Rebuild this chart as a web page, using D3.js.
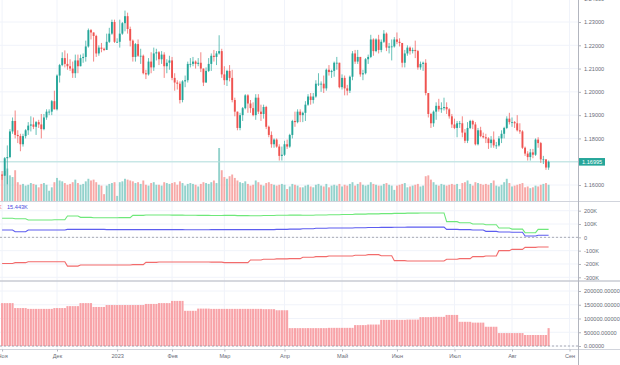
<!DOCTYPE html>
<html><head><meta charset="utf-8">
<script src="https://cdn.jsdelivr.net/npm/d3@7"></script>
<style>
html,body{margin:0;padding:0;background:#fff;}
svg{display:block;font-family:"Liberation Sans",Arial,sans-serif;}
</style></head>
<body><svg id="c" width="620" height="365"></svg>
<script>
// ---------- DATA ----------
const firstOpen = 1.1645;
const closes = [
1.1640,1.1715,1.1720,1.1830,1.1875,1.1815,1.1810,1.1775,1.1810,1.1835,1.1855,1.1860,1.1850,1.1870,1.1860,1.1840,1.1890,1.1915,1.1915,1.1960,1.1925,
1.2070,1.2115,1.2145,1.2120,1.2110,1.2100,1.2080,1.2135,1.2110,1.2145,1.2150,1.2195,1.2265,1.2255,1.2240,1.2165,1.2190,1.2185,1.2180,1.2215,1.2250,1.2300,1.2215,
1.2215,1.2250,1.2295,1.2325,1.2270,1.2220,1.2150,1.2205,1.2155,1.2155,1.2080,1.2075,1.2130,1.2105,1.2165,1.2170,1.2140,1.2160,1.2110,1.2125,1.2135,
1.2060,1.2040,1.2035,1.1965,1.2045,1.2050,1.2120,1.2120,1.2130,1.2120,1.2125,1.2100,1.2040,1.2090,1.2120,1.2155,1.2150,1.2165,1.2175,1.2075,
1.2050,1.2090,1.2060,1.1965,1.1915,1.1845,1.1900,1.1930,1.1985,1.1950,1.1930,1.1900,1.1975,1.1915,1.1905,1.1935,1.1850,1.1815,1.1775,1.1795,1.1765,1.1725,1.1730,
1.1775,1.1765,1.1815,1.1875,1.1870,1.1915,1.1900,1.1910,1.1945,1.1980,1.1965,1.1980,1.2035,1.2035,1.2035,1.2015,1.2095,1.2085,1.2090,1.2125,1.2125,1.2020,
1.2060,1.2015,1.2005,1.2065,1.2165,1.2130,1.2150,1.2075,1.2080,1.2140,1.2150,1.2225,1.2175,1.2225,1.2180,1.2215,1.2250,1.2190,1.2195,1.2195,1.2225,
1.2215,1.2210,1.2125,1.2165,1.2190,1.2175,1.2180,1.2175,1.2105,1.2120,1.2125,1.1995,1.1905,1.1865,1.1915,1.1940,1.1925,1.1930,1.1935,1.1925,1.1895,1.1860,
1.1845,1.1865,1.1865,1.1825,1.1790,1.1845,1.1875,1.1860,1.1775,1.1835,1.1810,1.1805,1.1800,1.1780,1.1795,1.1770,1.1770,1.1800,1.1820,1.1845,1.1885,1.1870,
1.1870,1.1865,1.1835,1.1830,1.1760,1.1735,1.1720,1.1740,1.1730,1.1795,1.1780,1.1710,1.1710,1.1675,1.16995];
const highs = [
1.1660,1.1720,1.1770,1.1840,1.1890,1.1920,1.1835,1.1820,1.1820,1.1840,1.1870,1.1895,1.1890,1.1875,1.1880,1.1905,1.1905,1.1925,1.1925,1.1965,1.2005,
1.2075,1.2120,1.2170,1.2178,1.2165,1.2140,1.2130,1.2160,1.2160,1.2160,1.2165,1.2220,1.2272,1.2270,1.2255,1.2245,1.2200,1.2210,1.2190,1.2250,1.2275,1.2310,1.2310,
1.2230,1.2310,1.2300,1.2349,1.2340,1.2280,1.2225,1.2210,1.2225,1.2185,1.2160,1.2095,1.2145,1.2170,1.2190,1.2185,1.2175,1.2175,1.2170,1.2140,1.2155,
1.2150,1.2080,1.2050,1.2045,1.2050,1.2070,1.2130,1.2145,1.2150,1.2135,1.2145,1.2170,1.2100,1.2105,1.2145,1.2165,1.2180,1.2175,1.2243,1.2185,
1.2110,1.2095,1.2115,1.2095,1.1975,1.1915,1.1910,1.1935,1.1990,1.1990,1.1965,1.1955,1.1990,1.1990,1.1945,1.1945,1.1940,1.1855,1.1830,1.1800,1.1800,1.1775,1.1765,
1.1790,1.1795,1.1820,1.1880,1.1915,1.1925,1.1925,1.1915,1.1960,1.1990,1.1995,1.1995,1.2050,1.2080,1.2045,1.2070,1.2100,1.2115,1.2095,1.2130,1.2150,1.2125,
1.2075,1.2070,1.2030,1.2070,1.2175,1.2180,1.2180,1.2150,1.2095,1.2145,1.2160,1.2245,1.2230,1.2230,1.2245,1.2225,1.2265,1.2255,1.2210,1.2225,1.2235,
1.2255,1.2230,1.2200,1.2180,1.2200,1.2195,1.2190,1.2220,1.2180,1.2130,1.2130,1.2140,1.1990,1.1910,1.1920,1.1955,1.1970,1.1955,1.1975,1.1955,1.1930,1.1905,
1.1885,1.1875,1.1875,1.1895,1.1840,1.1870,1.1880,1.1880,1.1870,1.1845,1.1850,1.1825,1.1820,1.1805,1.1810,1.1830,1.1785,1.1810,1.1835,1.1850,1.1895,1.1910,
1.1890,1.1875,1.1900,1.1865,1.1835,1.1765,1.1745,1.1755,1.1755,1.1800,1.1805,1.1785,1.1725,1.1710,1.1705];
const lows = [
1.1622,1.1640,1.1603,1.1715,1.1820,1.1800,1.1780,1.1745,1.1765,1.1800,1.1815,1.1830,1.1840,1.1815,1.1845,1.1800,1.1835,1.1880,1.1900,1.1900,1.1925,
1.1920,1.2040,1.2110,1.2105,1.2095,1.2090,1.2060,1.2060,1.2080,1.2110,1.2125,1.2130,1.2190,1.2225,1.2130,1.2150,1.2155,1.2170,1.2175,1.2190,1.2210,1.2245,1.2210,
1.2210,1.2190,1.2245,1.2260,1.2250,1.2195,1.2130,1.2130,1.2150,1.2120,1.2075,1.2055,1.2070,1.2080,1.2090,1.2135,1.2115,1.2120,1.2060,1.2080,1.2095,
1.2050,1.2005,1.2010,1.1950,1.1955,1.2020,1.2040,1.2105,1.2110,1.2100,1.2110,1.2085,1.2025,1.2040,1.2085,1.2090,1.2130,1.2115,1.2160,1.2060,
1.2030,1.2025,1.2045,1.1955,1.1895,1.1835,1.1835,1.1875,1.1925,1.1910,1.1910,1.1895,1.1880,1.1905,1.1875,1.1885,1.1840,1.1805,1.1760,1.1760,1.1760,1.1705,1.1705,
1.1725,1.1755,1.1760,1.1800,1.1850,1.1865,1.1870,1.1870,1.1875,1.1940,1.1945,1.1950,1.1975,1.2025,1.2000,1.1995,1.2005,1.2070,1.2060,1.2065,1.2095,1.2015,
1.2010,1.1985,1.1985,1.1995,1.2050,1.2120,1.2120,1.2065,1.2050,1.2075,1.2120,1.2145,1.2155,1.2170,1.2165,1.2170,1.2210,1.2175,1.2165,1.2135,1.2190,
1.2205,1.2195,1.2105,1.2105,1.2155,1.2160,1.2165,1.2145,1.2095,1.2095,1.2090,1.1985,1.1890,1.1845,1.1850,1.1880,1.1915,1.1910,1.1920,1.1905,1.1885,1.1845,
1.1840,1.1805,1.1845,1.1805,1.1780,1.1780,1.1840,1.1840,1.1770,1.1770,1.1805,1.1800,1.1780,1.1755,1.1760,1.1760,1.1755,1.1765,1.1780,1.1800,1.1840,1.1860,
1.1850,1.1845,1.1830,1.1820,1.1755,1.1725,1.1705,1.1705,1.1715,1.1725,1.1760,1.1695,1.1690,1.1665,1.1665];
const volumes = [
150,175,190,150,140, 180,110,95,100,90, 95,105,100,95,80, 100,105,95,60,80, 110,
135,120,115,105, 95,100,110,125,105, 95,100,115,130,120, 125,110,95,90,40, 90,100,105,110,
30, 110,115,130,125,120, 115,105,110,100,120, 95,90,105,110,95, 95,90,110,105,100,
105,110,95,115,105, 90,100,105,100,95, 85,100,110,105,100, 110,120,105,310,180,
140,130,145,155,135, 120,110,105,115,100, 90,95,120,110,95, 90,105,110,100,95, 90,95,100,
95,70, 85,100,95,90,80, 80,90,95,85,80, 95,100,90,85,100, 80,90,95,90,100,
85,95,90,100,110, 90,100,110,95,90, 95,110,100,95,90, 90,100,105,95,90, 65,
90,95,100,105, 80,85,90,95,100, 85,90,145,150,125, 110,95,90,100,95, 90,95,100,
95,100, 70,105,110,120,100, 90,110,105,100,95, 100,95,105,120,90, 85,95,110,130,105,
85,90,95,100,105, 80,85,75,80,90, 85,95,100,105,95];
// COT-style weekly series (one value per week of 5 bars)
const cotLong  = [143000,140000,130000,130000,132000,160000,150000,147000,147000,148000,165000,168000,168000,167000,166000,165000,164000,165000,163000,162000,164000,166000,167000,166000,168000,170000,172000,174000,176000,178000,180000,182000,183000,183000,118000,110000,100000,95000,70000,62000,35000,60000];
const cotNet   = [55000,42000,55000,55000,55000,60000,60000,60000,58000,58000,58000,58000,58000,58000,57000,57000,58000,58000,58000,58000,58000,60000,62000,65000,68000,70000,70000,72000,74000,75000,76000,77000,77000,77000,60000,58000,55000,45000,40000,38000,10000,15443];
const cotShort = [-196000,-190000,-183000,-183000,-183000,-216000,-208000,-208000,-208000,-208000,-205000,-188000,-185000,-185000,-185000,-185000,-186000,-190000,-190000,-170000,-165000,-162000,-160000,-150000,-145000,-140000,-140000,-135000,-130000,-138000,-175000,-178000,-178000,-178000,-165000,-160000,-145000,-140000,-100000,-90000,-75000,-73000];
const openInterest = [156000,138000,135000,135000,138000,145000,156000,142000,149000,149000,149000,153000,156000,164000,128000,136000,135000,135000,135000,135000,134000,130000,65000,65000,65000,66000,66000,76000,78000,95000,95000,96000,105000,106000,113000,88000,85000,70000,47000,47000,40000,40000];
const openInterestLastBar = 65000;
const monthTickIdx = [0,21,44,65,85,108,130,151,173,195,217];
const monthLabels = ["Ноя","Дек","2023","Фев","Мар","Апр","Май","Июн","Июл","Авг","Сен"];
const priceTicks = [1.16,1.17,1.18,1.19,1.20,1.21,1.22,1.23,1.24];
const cotTicks = [200000,100000,0,-100000,-200000,-300000];
const cotTickLabels = ["200K","100K","0","-100K","-200K","-300K"];
const oiTicks = [0,50000,100000,150000,200000];
const lastPrice = 1.16995;
const cotLegendValue = "15.443K";

// ---------- LAYOUT ----------
const W = 620, H = 365, plotR = 578;
const svg = d3.select("#c");
const N = closes.length;
const opens = closes.map((c,i)=> i===0 ? firstOpen : closes[i-1]);
const x = d3.scaleLinear().domain([21,195]).range([57,512]);
const y = d3.scaleLinear().domain([1.16,1.23]).range([185,22]);
const yv = d3.scaleLinear().domain([0,310]).range([201,148]);
const y2 = d3.scaleLinear().domain([-300000,200000]).range([277.3,210.7]);
const y3 = d3.scaleLinear().domain([0,200000]).range([346,291]);
const UP = "#26a69a", DN = "#ef5350";
const gridC = "#f0f3fa";
const txtC = "#6a6d78";
const fs = 5.6;

svg.append("clipPath").attr("id","cm").append("rect").attr("x",0).attr("y",0).attr("width",plotR).attr("height",201);
svg.append("clipPath").attr("id","c2").append("rect").attr("x",0).attr("y",202).attr("width",plotR).attr("height",78);
svg.append("clipPath").attr("id","c3").append("rect").attr("x",0).attr("y",282).attr("width",plotR).attr("height",67);

// grid verticals
const gv = svg.append("g");
monthTickIdx.forEach(i=>{
  gv.append("line").attr("x1",x(i)).attr("x2",x(i)).attr("y1",0).attr("y2",349).attr("stroke",gridC).attr("stroke-width",1);
});
// horizontal grids
const gh = svg.append("g");
priceTicks.forEach(p=>gh.append("line").attr("x1",0).attr("x2",plotR).attr("y1",y(p)).attr("y2",y(p)).attr("stroke",gridC));
cotTicks.forEach(p=>gh.append("line").attr("x1",0).attr("x2",plotR).attr("y1",y2(p)).attr("y2",y2(p)).attr("stroke",gridC));
oiTicks.forEach(p=>gh.append("line").attr("x1",0).attr("x2",plotR).attr("y1",y3(p)).attr("y2",y3(p)).attr("stroke",gridC));

// ---------- MAIN PANEL ----------
const main = svg.append("g").attr("clip-path","url(#cm)");
const bw = 1.9;
main.append("g").selectAll("rect").data(volumes).join("rect")
  .attr("x",(d,i)=>x(i)-bw/2).attr("width",bw)
  .attr("y",d=>yv(d)).attr("height",d=>yv(0)-yv(d))
  .attr("fill",(d,i)=> closes[i]>=opens[i] ? "#93d2cc" : "#f7a9a7");
main.append("line").attr("x1",0).attr("x2",plotR).attr("y1",y(lastPrice)).attr("y2",y(lastPrice))
  .attr("stroke","#b3e0dc").attr("stroke-width",1);
main.append("g").selectAll("line").data(closes).join("line")
  .attr("x1",(d,i)=>x(i)).attr("x2",(d,i)=>x(i))
  .attr("y1",(d,i)=>y(highs[i])).attr("y2",(d,i)=>y(lows[i]))
  .attr("stroke",(d,i)=> closes[i]>=opens[i] ? UP : DN).attr("stroke-width",0.7);
main.append("g").selectAll("rect").data(closes).join("rect")
  .attr("x",(d,i)=>x(i)-bw/2).attr("width",bw)
  .attr("y",(d,i)=>y(Math.max(opens[i],closes[i])))
  .attr("height",(d,i)=>Math.max(0.8, Math.abs(y(opens[i])-y(closes[i]))))
  .attr("fill",(d,i)=> closes[i]>=opens[i] ? UP : DN);

// ---------- PANEL 2 ----------
const p2 = svg.append("g").attr("clip-path","url(#c2)");
p2.append("line").attr("x1",0).attr("x2",plotR).attr("y1",y2(0)).attr("y2",y2(0))
  .attr("stroke","#9598a1").attr("stroke-dasharray","2,2").attr("stroke-width",0.8);
function daily(arr){ const out=[]; for(let i=0;i<N;i++){ out.push([i, arr[Math.floor(i/5)]]); } return out; }
const ln = d3.line().x(d=>x(d[0])).y(d=>y2(d[1]));
[[cotLong,"#6ee87a"],[cotNet,"#5c5cf0"],[cotShort,"#f26b6b"]].forEach(([arr,c])=>{
  p2.append("path").attr("d",ln(daily(arr))).attr("fill","none").attr("stroke",c).attr("stroke-width",1.1);
});
svg.append("text").attr("x",-2).attr("y",209).attr("font-size",fs).attr("fill","#f26b6b").text("K");
svg.append("text").attr("x",7).attr("y",209).attr("font-size",fs).attr("fill","#4a4ae0").text(cotLegendValue);

// ---------- PANEL 3 ----------
const p3 = svg.append("g").attr("clip-path","url(#c3)");
const oiDaily = d3.range(N).map(i=> i===N-1 ? openInterestLastBar : openInterest[Math.floor(i/5)]);
p3.append("g").selectAll("rect").data(oiDaily).join("rect")
  .attr("x",(d,i)=>x(i)-1.05).attr("width",2.1)
  .attr("y",d=>y3(d)).attr("height",d=>y3(0)-y3(d))
  .attr("fill","#f8a3a8");
p3.append("line").attr("x1",0).attr("x2",plotR).attr("y1",y3(0)).attr("y2",y3(0))
  .attr("stroke","#9598a1").attr("stroke-dasharray","2,2").attr("stroke-width",0.8);

// ---------- SEPARATORS ----------
svg.append("line").attr("x1",0).attr("x2",W).attr("y1",201.5).attr("y2",201.5).attr("stroke","#d1d4dc");
svg.append("line").attr("x1",0).attr("x2",W).attr("y1",281).attr("y2",281).attr("stroke","#c8cbd3").attr("stroke-width",1.5);
svg.append("line").attr("x1",0).attr("x2",W).attr("y1",349.5).attr("y2",349.5).attr("stroke","#d1d4dc");
svg.append("line").attr("x1",plotR+0.5).attr("x2",plotR+0.5).attr("y1",0).attr("y2",H).attr("stroke","#b2b5be");

// ---------- AXES ----------
function styleAxis(g){
  g.select(".domain").remove();
  g.selectAll(".tick line").attr("stroke","#b2b5be");
  g.selectAll(".tick text").attr("fill",txtC).attr("font-size",fs).attr("font-family","Liberation Sans, Arial, sans-serif");
}
const ax1 = svg.append("g").attr("transform",`translate(${plotR},0)`)
  .call(d3.axisRight(y).tickValues(priceTicks).tickFormat(d=> Math.abs(d-lastPrice)<0.003 ? "" : d3.format(".5f")(d)).tickSize(3).tickPadding(3));
styleAxis(ax1);
const ax2 = svg.append("g").attr("transform",`translate(${plotR},0)`)
  .call(d3.axisRight(y2).tickValues(cotTicks).tickFormat((d,i)=>cotTickLabels[i]).tickSize(3).tickPadding(3));
styleAxis(ax2);
const ax3 = svg.append("g").attr("transform",`translate(${plotR},0)`)
  .call(d3.axisRight(y3).tickValues(oiTicks).tickFormat(d3.format(".5f")).tickSize(3).tickPadding(3));
styleAxis(ax3);
const axx = svg.append("g").attr("transform",`translate(0,349.5)`)
  .call(d3.axisBottom(x).tickValues(monthTickIdx).tickFormat((d,i)=>monthLabels[i]).tickSize(2).tickPadding(3));
styleAxis(axx);

// last price label
const lpY = y(lastPrice);
svg.append("rect").attr("x",plotR+1).attr("y",lpY-3.8).attr("width",26).attr("height",7.6).attr("fill",UP);
svg.append("text").attr("x",plotR+4).attr("y",lpY+2).attr("font-size",fs).attr("fill","#fff").text(d3.format(".5f")(lastPrice));
</script></body></html>
